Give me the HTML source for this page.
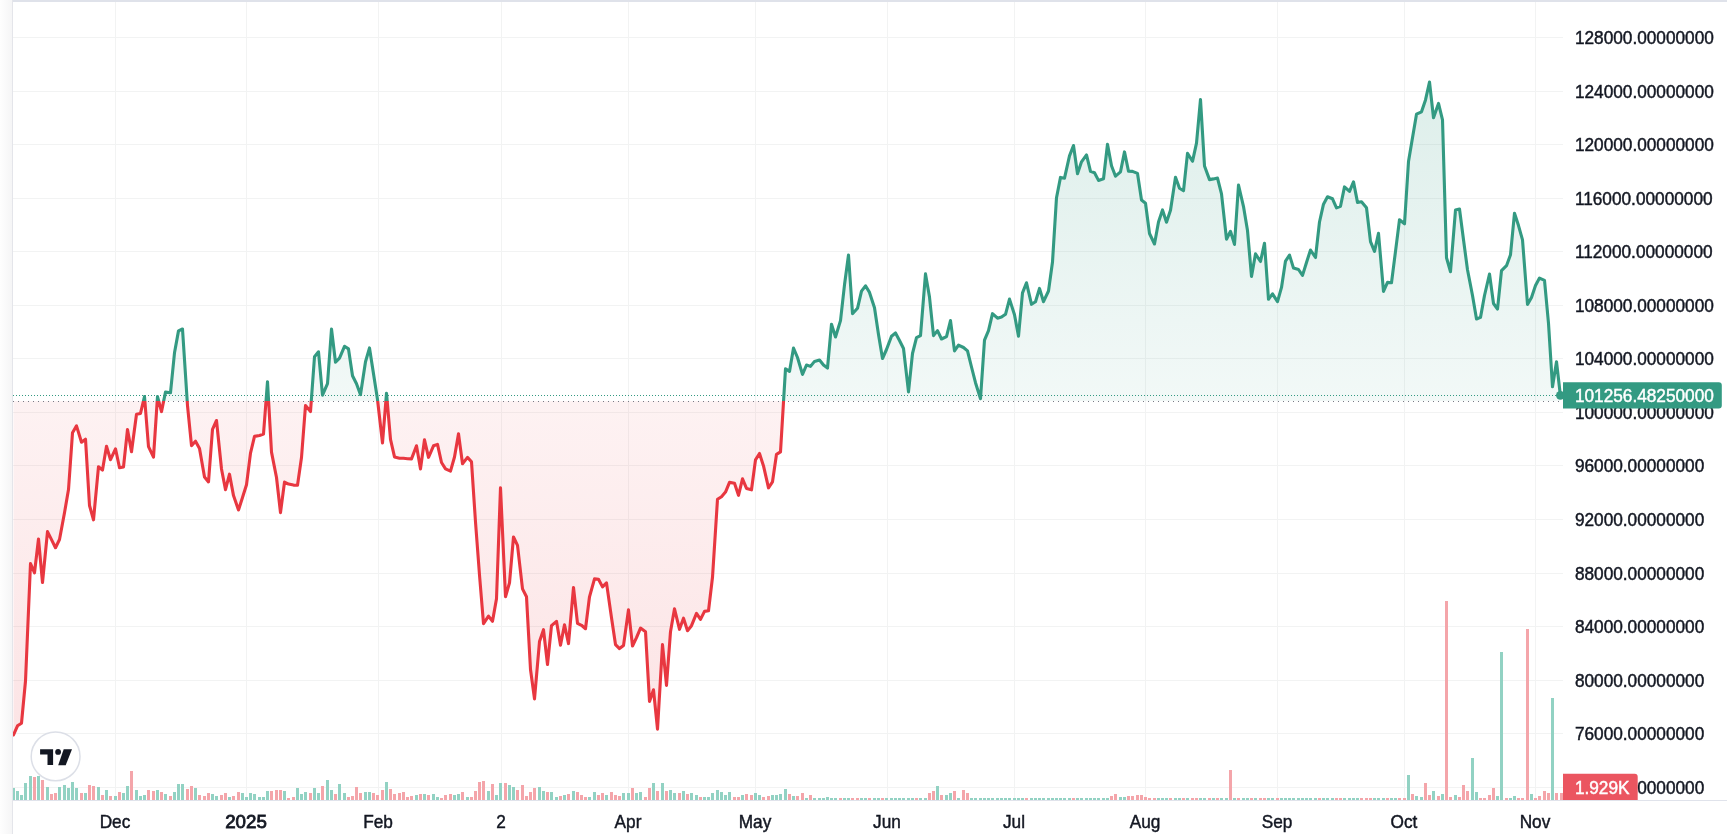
<!DOCTYPE html>
<html><head><meta charset="utf-8"><title>Chart</title><style>
html,body{margin:0;padding:0;width:1727px;height:834px;overflow:hidden;background:#fff;}
svg{position:absolute;left:0;top:0;display:block;}
text{font-family:"Liberation Sans",sans-serif;}
</style></head><body>
<svg width="1727" height="834" viewBox="0 0 1727 834" shape-rendering="auto">
<defs>
<linearGradient id="lg" x1="0" y1="0" x2="1" y2="0"><stop offset="0" stop-color="#fefefe"/><stop offset="1" stop-color="#f5f5f6"/></linearGradient>
<linearGradient id="gg" gradientUnits="userSpaceOnUse" x1="0" y1="2" x2="0" y2="401.0"><stop offset="0" stop-color="#339a82" stop-opacity="0.19"/><stop offset="1" stop-color="#339a82" stop-opacity="0.063"/></linearGradient>
<linearGradient id="rg" gradientUnits="userSpaceOnUse" x1="0" y1="401.0" x2="0" y2="800"><stop offset="0" stop-color="#e83740" stop-opacity="0.065"/><stop offset="1" stop-color="#e83740" stop-opacity="0.15"/></linearGradient>
<clipPath id="cu"><rect x="13" y="0" width="1550" height="401.0"/></clipPath>
<clipPath id="cd"><rect x="13" y="401.0" width="1550" height="399.0"/></clipPath>
</defs>
<rect x="0" y="0" width="12" height="834" fill="url(#lg)"/>
<rect x="12" y="0" width="1" height="834" fill="#e4e5ea"/>
<rect x="115" y="2" width="1" height="798" fill="#f2f3f3"/>
<rect x="246" y="2" width="1" height="798" fill="#f2f3f3"/>
<rect x="378" y="2" width="1" height="798" fill="#f2f3f3"/>
<rect x="501" y="2" width="1" height="798" fill="#f2f3f3"/>
<rect x="628" y="2" width="1" height="798" fill="#f2f3f3"/>
<rect x="755" y="2" width="1" height="798" fill="#f2f3f3"/>
<rect x="887" y="2" width="1" height="798" fill="#f2f3f3"/>
<rect x="1014" y="2" width="1" height="798" fill="#f2f3f3"/>
<rect x="1145" y="2" width="1" height="798" fill="#f2f3f3"/>
<rect x="1277" y="2" width="1" height="798" fill="#f2f3f3"/>
<rect x="1404" y="2" width="1" height="798" fill="#f2f3f3"/>
<rect x="1535" y="2" width="1" height="798" fill="#f2f3f3"/>
<rect x="13" y="37" width="1550" height="1" fill="#f2f3f3"/>
<rect x="13" y="91" width="1550" height="1" fill="#f2f3f3"/>
<rect x="13" y="144" width="1550" height="1" fill="#f2f3f3"/>
<rect x="13" y="198" width="1550" height="1" fill="#f2f3f3"/>
<rect x="13" y="251" width="1550" height="1" fill="#f2f3f3"/>
<rect x="13" y="305" width="1550" height="1" fill="#f2f3f3"/>
<rect x="13" y="358" width="1550" height="1" fill="#f2f3f3"/>
<rect x="13" y="412" width="1550" height="1" fill="#f2f3f3"/>
<rect x="13" y="465" width="1550" height="1" fill="#f2f3f3"/>
<rect x="13" y="519" width="1550" height="1" fill="#f2f3f3"/>
<rect x="13" y="573" width="1550" height="1" fill="#f2f3f3"/>
<rect x="13" y="626" width="1550" height="1" fill="#f2f3f3"/>
<rect x="13" y="680" width="1550" height="1" fill="#f2f3f3"/>
<rect x="13" y="733" width="1550" height="1" fill="#f2f3f3"/>
<rect x="13" y="787" width="1550" height="1" fill="#f2f3f3"/>
<path d="M13.5,735 L17.5,725.8 L21.5,723.2 L25.5,681 L30.5,563.5 L34.5,572.8 L38.5,539 L42.5,582.5 L47.5,531.6 L51.5,539.6 L55.5,547.7 L59.5,539.5 L64.5,512.7 L68.5,489.6 L72.5,432.8 L76.5,425.9 L81.5,442.2 L85.5,439.2 L89.5,505.5 L93.5,519.8 L98.5,466.7 L102.5,470.1 L106.5,446.2 L110.5,459.7 L115.5,448.8 L119.5,467.7 L123.5,466.9 L127.5,429.5 L131.5,451.8 L136.5,414.2 L140.5,413.4 L144.5,396.6 L148.5,446.6 L153.5,457.1 L157.5,396.6 L161.5,411.6 L165.5,392.1 L170.5,392.7 L174.5,352.8 L178.5,330.9 L182.5,329 L187.5,405.6 L191.5,445.6 L195.5,441.2 L199.5,448.4 L204.5,477 L208.5,481.9 L212.5,429.3 L216.5,420.5 L221.5,469 L225.5,489.7 L229.5,474.2 L233.5,495.6 L238.5,510 L242.5,497.6 L246.5,484.7 L250.5,453.1 L254.5,436.4 L259.5,435.5 L263.5,434.1 L267.5,381.7 L271.5,452.1 L276.5,477.5 L280.5,512.6 L284.5,482.1 L288.5,484.1 L293.5,485.1 L297.5,485.2 L301.5,457.5 L305.5,405.6 L310.5,411.6 L314.5,356.8 L318.5,351.8 L322.5,395.2 L327.5,383.7 L331.5,329 L335.5,362.2 L339.5,358.2 L344.5,346.3 L348.5,348.9 L352.5,375.7 L356.5,383.7 L360.5,394.6 L365.5,361.8 L369.5,347.9 L373.5,373.7 L377.5,399.6 L382.5,443 L386.5,393.2 L390.5,439.4 L394.5,456.9 L399.5,458.3 L403.5,458.3 L407.5,458.7 L411.5,458.9 L416.5,445.8 L420.5,468.9 L424.5,439.8 L428.5,457.3 L433.5,445.8 L437.5,444.4 L441.5,462.5 L445.5,468.8 L450.5,471.1 L454.5,457 L458.5,433.7 L462.5,463.8 L467.5,457.4 L471.5,461.8 L475.5,522 L479.5,575 L483.5,623.7 L488.5,616.1 L492.5,621.3 L496.5,598.8 L500.5,487.7 L505.5,596.8 L509.5,582.9 L513.5,537 L517.5,545.4 L522.5,588.9 L526.5,596.8 L530.5,669.5 L534.5,698.9 L539.5,641.6 L543.5,629.7 L547.5,664.5 L551.5,625.7 L556.5,621.3 L560.5,645.2 L564.5,624.7 L568.5,643.6 L573.5,587.5 L577.5,623.3 L581.5,625.3 L585.5,628.7 L589.5,596.8 L594.5,578.9 L598.5,579.3 L602.5,586.9 L606.5,582.9 L611.5,617.8 L615.5,644.6 L619.5,648.6 L623.5,645.6 L628.5,609.8 L632.5,646 L636.5,637.7 L640.5,628.1 L645.5,631.7 L649.5,701.4 L653.5,689.8 L657.5,729.2 L662.5,644.6 L666.5,685.4 L670.5,631.7 L674.5,608.8 L679.5,629.3 L683.5,618.2 L687.5,630.7 L691.5,625.7 L696.5,613.4 L700.5,619.4 L704.5,611.4 L708.5,610.8 L712.5,577.3 L717.5,499.3 L721.5,496.7 L725.5,492.1 L729.5,482.4 L734.5,483.2 L738.5,495.3 L742.5,478.8 L746.5,488.4 L751.5,489.8 L755.5,459.9 L759.5,453.5 L763.5,465.9 L768.5,487.8 L772.5,481.8 L776.5,454.3 L780.5,451.9 L785.5,368.8 L789.5,371.4 L793.5,348.1 L797.5,357.5 L802.5,374.4 L806.5,365 L810.5,366.4 L814.5,361.4 L819.5,360 L823.5,365 L827.5,368 L831.5,324.2 L835.5,337 L840.5,320.6 L844.5,284.8 L848.5,255 L852.5,313.7 L857.5,308.3 L861.5,291.2 L865.5,285.8 L869.5,292.4 L874.5,307.7 L878.5,334.6 L882.5,358.5 L886.5,349.5 L891.5,336.2 L895.5,333 L899.5,340.5 L903.5,348.5 L908.5,391.9 L912.5,353.5 L916.5,337.6 L920.5,335.6 L925.5,273.9 L929.5,297.1 L933.5,335.6 L937.5,330.6 L941.5,339 L946.5,336.6 L950.5,320.6 L954.5,350.9 L958.5,345.1 L963.5,347.5 L967.5,350.9 L971.5,367 L975.5,382.7 L980.5,398.7 L984.5,340.1 L988.5,330.6 L992.5,313.7 L997.5,318.2 L1001.5,317.1 L1005.5,314.3 L1009.5,299.1 L1014.5,314.7 L1018.5,336.2 L1022.5,292.8 L1026.5,282.8 L1031.5,304.3 L1035.5,301.7 L1039.5,288.4 L1043.5,301.7 L1048.5,291 L1052.5,262 L1056.5,197.7 L1060.5,177.4 L1064.5,178.2 L1069.5,155.9 L1073.5,145.5 L1077.5,173.8 L1081.5,161.8 L1086.5,154.9 L1090.5,171.4 L1094.5,172.8 L1098.5,180.4 L1103.5,178.8 L1107.5,144.3 L1111.5,165.8 L1115.5,176.2 L1120.5,171.8 L1124.5,151.9 L1128.5,171.2 L1132.5,171.4 L1137.5,173.4 L1141.5,200.1 L1145.5,203.2 L1149.5,233.5 L1154.5,244 L1158.5,222 L1162.5,209.9 L1166.5,222.2 L1170.5,210.2 L1175.5,177.2 L1179.5,188.3 L1183.5,190.8 L1187.5,153.3 L1192.5,161.3 L1196.5,143.1 L1200.5,99.5 L1204.5,166 L1209.5,179.6 L1213.5,178.9 L1217.5,178.1 L1221.5,193.9 L1226.5,239.2 L1230.5,231.3 L1234.5,244.4 L1238.5,185 L1243.5,206.6 L1247.5,230.5 L1251.5,276.4 L1255.5,253.9 L1260.5,261.5 L1264.5,243.2 L1268.5,299.3 L1272.5,293.8 L1277.5,301.7 L1281.5,287.4 L1285.5,261.1 L1289.5,255.1 L1293.5,268.1 L1298.5,269.5 L1302.5,275.4 L1306.5,262.5 L1310.5,250 L1315.5,257.5 L1319.5,222 L1323.5,204.2 L1327.5,196.8 L1332.5,198.8 L1336.5,207.8 L1340.5,206.2 L1344.5,186.9 L1349.5,191.4 L1353.5,181.9 L1357.5,202.4 L1361.5,201.8 L1366.5,207.8 L1370.5,241.6 L1374.5,251.4 L1378.5,233.3 L1383.5,291.4 L1387.5,282.4 L1391.5,282.7 L1395.5,251.4 L1399.5,219.8 L1404.5,223.8 L1408.5,161.6 L1412.5,137.7 L1416.5,114.2 L1421.5,111.8 L1425.5,99.9 L1429.5,82 L1433.5,117.8 L1438.5,103.4 L1442.5,119.8 L1446.5,257.7 L1450.5,271.7 L1455.5,210.1 L1459.5,209 L1463.5,239.8 L1467.5,269.7 L1472.5,295.5 L1476.5,319 L1480.5,317.4 L1484.5,295.5 L1489.5,274 L1493.5,303.5 L1497.5,309.1 L1501.5,270.7 L1506.5,265.7 L1510.5,254.7 L1514.5,213.2 L1518.5,225.6 L1522.5,239.8 L1527.5,304.5 L1531.5,297.5 L1535.5,285.6 L1539.5,278.1 L1544.5,280.4 L1548.5,323.4 L1552.5,386.8 L1556.5,361.8 L1560.4,395.5 L1560.4,401.0 L13.5,401.0 Z" fill="url(#gg)" clip-path="url(#cu)"/>
<path d="M13.5,735 L17.5,725.8 L21.5,723.2 L25.5,681 L30.5,563.5 L34.5,572.8 L38.5,539 L42.5,582.5 L47.5,531.6 L51.5,539.6 L55.5,547.7 L59.5,539.5 L64.5,512.7 L68.5,489.6 L72.5,432.8 L76.5,425.9 L81.5,442.2 L85.5,439.2 L89.5,505.5 L93.5,519.8 L98.5,466.7 L102.5,470.1 L106.5,446.2 L110.5,459.7 L115.5,448.8 L119.5,467.7 L123.5,466.9 L127.5,429.5 L131.5,451.8 L136.5,414.2 L140.5,413.4 L144.5,396.6 L148.5,446.6 L153.5,457.1 L157.5,396.6 L161.5,411.6 L165.5,392.1 L170.5,392.7 L174.5,352.8 L178.5,330.9 L182.5,329 L187.5,405.6 L191.5,445.6 L195.5,441.2 L199.5,448.4 L204.5,477 L208.5,481.9 L212.5,429.3 L216.5,420.5 L221.5,469 L225.5,489.7 L229.5,474.2 L233.5,495.6 L238.5,510 L242.5,497.6 L246.5,484.7 L250.5,453.1 L254.5,436.4 L259.5,435.5 L263.5,434.1 L267.5,381.7 L271.5,452.1 L276.5,477.5 L280.5,512.6 L284.5,482.1 L288.5,484.1 L293.5,485.1 L297.5,485.2 L301.5,457.5 L305.5,405.6 L310.5,411.6 L314.5,356.8 L318.5,351.8 L322.5,395.2 L327.5,383.7 L331.5,329 L335.5,362.2 L339.5,358.2 L344.5,346.3 L348.5,348.9 L352.5,375.7 L356.5,383.7 L360.5,394.6 L365.5,361.8 L369.5,347.9 L373.5,373.7 L377.5,399.6 L382.5,443 L386.5,393.2 L390.5,439.4 L394.5,456.9 L399.5,458.3 L403.5,458.3 L407.5,458.7 L411.5,458.9 L416.5,445.8 L420.5,468.9 L424.5,439.8 L428.5,457.3 L433.5,445.8 L437.5,444.4 L441.5,462.5 L445.5,468.8 L450.5,471.1 L454.5,457 L458.5,433.7 L462.5,463.8 L467.5,457.4 L471.5,461.8 L475.5,522 L479.5,575 L483.5,623.7 L488.5,616.1 L492.5,621.3 L496.5,598.8 L500.5,487.7 L505.5,596.8 L509.5,582.9 L513.5,537 L517.5,545.4 L522.5,588.9 L526.5,596.8 L530.5,669.5 L534.5,698.9 L539.5,641.6 L543.5,629.7 L547.5,664.5 L551.5,625.7 L556.5,621.3 L560.5,645.2 L564.5,624.7 L568.5,643.6 L573.5,587.5 L577.5,623.3 L581.5,625.3 L585.5,628.7 L589.5,596.8 L594.5,578.9 L598.5,579.3 L602.5,586.9 L606.5,582.9 L611.5,617.8 L615.5,644.6 L619.5,648.6 L623.5,645.6 L628.5,609.8 L632.5,646 L636.5,637.7 L640.5,628.1 L645.5,631.7 L649.5,701.4 L653.5,689.8 L657.5,729.2 L662.5,644.6 L666.5,685.4 L670.5,631.7 L674.5,608.8 L679.5,629.3 L683.5,618.2 L687.5,630.7 L691.5,625.7 L696.5,613.4 L700.5,619.4 L704.5,611.4 L708.5,610.8 L712.5,577.3 L717.5,499.3 L721.5,496.7 L725.5,492.1 L729.5,482.4 L734.5,483.2 L738.5,495.3 L742.5,478.8 L746.5,488.4 L751.5,489.8 L755.5,459.9 L759.5,453.5 L763.5,465.9 L768.5,487.8 L772.5,481.8 L776.5,454.3 L780.5,451.9 L785.5,368.8 L789.5,371.4 L793.5,348.1 L797.5,357.5 L802.5,374.4 L806.5,365 L810.5,366.4 L814.5,361.4 L819.5,360 L823.5,365 L827.5,368 L831.5,324.2 L835.5,337 L840.5,320.6 L844.5,284.8 L848.5,255 L852.5,313.7 L857.5,308.3 L861.5,291.2 L865.5,285.8 L869.5,292.4 L874.5,307.7 L878.5,334.6 L882.5,358.5 L886.5,349.5 L891.5,336.2 L895.5,333 L899.5,340.5 L903.5,348.5 L908.5,391.9 L912.5,353.5 L916.5,337.6 L920.5,335.6 L925.5,273.9 L929.5,297.1 L933.5,335.6 L937.5,330.6 L941.5,339 L946.5,336.6 L950.5,320.6 L954.5,350.9 L958.5,345.1 L963.5,347.5 L967.5,350.9 L971.5,367 L975.5,382.7 L980.5,398.7 L984.5,340.1 L988.5,330.6 L992.5,313.7 L997.5,318.2 L1001.5,317.1 L1005.5,314.3 L1009.5,299.1 L1014.5,314.7 L1018.5,336.2 L1022.5,292.8 L1026.5,282.8 L1031.5,304.3 L1035.5,301.7 L1039.5,288.4 L1043.5,301.7 L1048.5,291 L1052.5,262 L1056.5,197.7 L1060.5,177.4 L1064.5,178.2 L1069.5,155.9 L1073.5,145.5 L1077.5,173.8 L1081.5,161.8 L1086.5,154.9 L1090.5,171.4 L1094.5,172.8 L1098.5,180.4 L1103.5,178.8 L1107.5,144.3 L1111.5,165.8 L1115.5,176.2 L1120.5,171.8 L1124.5,151.9 L1128.5,171.2 L1132.5,171.4 L1137.5,173.4 L1141.5,200.1 L1145.5,203.2 L1149.5,233.5 L1154.5,244 L1158.5,222 L1162.5,209.9 L1166.5,222.2 L1170.5,210.2 L1175.5,177.2 L1179.5,188.3 L1183.5,190.8 L1187.5,153.3 L1192.5,161.3 L1196.5,143.1 L1200.5,99.5 L1204.5,166 L1209.5,179.6 L1213.5,178.9 L1217.5,178.1 L1221.5,193.9 L1226.5,239.2 L1230.5,231.3 L1234.5,244.4 L1238.5,185 L1243.5,206.6 L1247.5,230.5 L1251.5,276.4 L1255.5,253.9 L1260.5,261.5 L1264.5,243.2 L1268.5,299.3 L1272.5,293.8 L1277.5,301.7 L1281.5,287.4 L1285.5,261.1 L1289.5,255.1 L1293.5,268.1 L1298.5,269.5 L1302.5,275.4 L1306.5,262.5 L1310.5,250 L1315.5,257.5 L1319.5,222 L1323.5,204.2 L1327.5,196.8 L1332.5,198.8 L1336.5,207.8 L1340.5,206.2 L1344.5,186.9 L1349.5,191.4 L1353.5,181.9 L1357.5,202.4 L1361.5,201.8 L1366.5,207.8 L1370.5,241.6 L1374.5,251.4 L1378.5,233.3 L1383.5,291.4 L1387.5,282.4 L1391.5,282.7 L1395.5,251.4 L1399.5,219.8 L1404.5,223.8 L1408.5,161.6 L1412.5,137.7 L1416.5,114.2 L1421.5,111.8 L1425.5,99.9 L1429.5,82 L1433.5,117.8 L1438.5,103.4 L1442.5,119.8 L1446.5,257.7 L1450.5,271.7 L1455.5,210.1 L1459.5,209 L1463.5,239.8 L1467.5,269.7 L1472.5,295.5 L1476.5,319 L1480.5,317.4 L1484.5,295.5 L1489.5,274 L1493.5,303.5 L1497.5,309.1 L1501.5,270.7 L1506.5,265.7 L1510.5,254.7 L1514.5,213.2 L1518.5,225.6 L1522.5,239.8 L1527.5,304.5 L1531.5,297.5 L1535.5,285.6 L1539.5,278.1 L1544.5,280.4 L1548.5,323.4 L1552.5,386.8 L1556.5,361.8 L1560.4,395.5 L1560.4,401.0 L13.5,401.0 Z" fill="url(#rg)" clip-path="url(#cd)"/>
<line x1="13" y1="401.5" x2="1559.5" y2="401.5" stroke="#787b86" stroke-width="1" stroke-dasharray="1 4"/>
<line x1="13" y1="395.5" x2="1560" y2="395.5" stroke="#339a82" stroke-width="1" stroke-dasharray="1 2"/>
<path d="M13.5,735 L17.5,725.8 L21.5,723.2 L25.5,681 L30.5,563.5 L34.5,572.8 L38.5,539 L42.5,582.5 L47.5,531.6 L51.5,539.6 L55.5,547.7 L59.5,539.5 L64.5,512.7 L68.5,489.6 L72.5,432.8 L76.5,425.9 L81.5,442.2 L85.5,439.2 L89.5,505.5 L93.5,519.8 L98.5,466.7 L102.5,470.1 L106.5,446.2 L110.5,459.7 L115.5,448.8 L119.5,467.7 L123.5,466.9 L127.5,429.5 L131.5,451.8 L136.5,414.2 L140.5,413.4 L144.5,396.6 L148.5,446.6 L153.5,457.1 L157.5,396.6 L161.5,411.6 L165.5,392.1 L170.5,392.7 L174.5,352.8 L178.5,330.9 L182.5,329 L187.5,405.6 L191.5,445.6 L195.5,441.2 L199.5,448.4 L204.5,477 L208.5,481.9 L212.5,429.3 L216.5,420.5 L221.5,469 L225.5,489.7 L229.5,474.2 L233.5,495.6 L238.5,510 L242.5,497.6 L246.5,484.7 L250.5,453.1 L254.5,436.4 L259.5,435.5 L263.5,434.1 L267.5,381.7 L271.5,452.1 L276.5,477.5 L280.5,512.6 L284.5,482.1 L288.5,484.1 L293.5,485.1 L297.5,485.2 L301.5,457.5 L305.5,405.6 L310.5,411.6 L314.5,356.8 L318.5,351.8 L322.5,395.2 L327.5,383.7 L331.5,329 L335.5,362.2 L339.5,358.2 L344.5,346.3 L348.5,348.9 L352.5,375.7 L356.5,383.7 L360.5,394.6 L365.5,361.8 L369.5,347.9 L373.5,373.7 L377.5,399.6 L382.5,443 L386.5,393.2 L390.5,439.4 L394.5,456.9 L399.5,458.3 L403.5,458.3 L407.5,458.7 L411.5,458.9 L416.5,445.8 L420.5,468.9 L424.5,439.8 L428.5,457.3 L433.5,445.8 L437.5,444.4 L441.5,462.5 L445.5,468.8 L450.5,471.1 L454.5,457 L458.5,433.7 L462.5,463.8 L467.5,457.4 L471.5,461.8 L475.5,522 L479.5,575 L483.5,623.7 L488.5,616.1 L492.5,621.3 L496.5,598.8 L500.5,487.7 L505.5,596.8 L509.5,582.9 L513.5,537 L517.5,545.4 L522.5,588.9 L526.5,596.8 L530.5,669.5 L534.5,698.9 L539.5,641.6 L543.5,629.7 L547.5,664.5 L551.5,625.7 L556.5,621.3 L560.5,645.2 L564.5,624.7 L568.5,643.6 L573.5,587.5 L577.5,623.3 L581.5,625.3 L585.5,628.7 L589.5,596.8 L594.5,578.9 L598.5,579.3 L602.5,586.9 L606.5,582.9 L611.5,617.8 L615.5,644.6 L619.5,648.6 L623.5,645.6 L628.5,609.8 L632.5,646 L636.5,637.7 L640.5,628.1 L645.5,631.7 L649.5,701.4 L653.5,689.8 L657.5,729.2 L662.5,644.6 L666.5,685.4 L670.5,631.7 L674.5,608.8 L679.5,629.3 L683.5,618.2 L687.5,630.7 L691.5,625.7 L696.5,613.4 L700.5,619.4 L704.5,611.4 L708.5,610.8 L712.5,577.3 L717.5,499.3 L721.5,496.7 L725.5,492.1 L729.5,482.4 L734.5,483.2 L738.5,495.3 L742.5,478.8 L746.5,488.4 L751.5,489.8 L755.5,459.9 L759.5,453.5 L763.5,465.9 L768.5,487.8 L772.5,481.8 L776.5,454.3 L780.5,451.9 L785.5,368.8 L789.5,371.4 L793.5,348.1 L797.5,357.5 L802.5,374.4 L806.5,365 L810.5,366.4 L814.5,361.4 L819.5,360 L823.5,365 L827.5,368 L831.5,324.2 L835.5,337 L840.5,320.6 L844.5,284.8 L848.5,255 L852.5,313.7 L857.5,308.3 L861.5,291.2 L865.5,285.8 L869.5,292.4 L874.5,307.7 L878.5,334.6 L882.5,358.5 L886.5,349.5 L891.5,336.2 L895.5,333 L899.5,340.5 L903.5,348.5 L908.5,391.9 L912.5,353.5 L916.5,337.6 L920.5,335.6 L925.5,273.9 L929.5,297.1 L933.5,335.6 L937.5,330.6 L941.5,339 L946.5,336.6 L950.5,320.6 L954.5,350.9 L958.5,345.1 L963.5,347.5 L967.5,350.9 L971.5,367 L975.5,382.7 L980.5,398.7 L984.5,340.1 L988.5,330.6 L992.5,313.7 L997.5,318.2 L1001.5,317.1 L1005.5,314.3 L1009.5,299.1 L1014.5,314.7 L1018.5,336.2 L1022.5,292.8 L1026.5,282.8 L1031.5,304.3 L1035.5,301.7 L1039.5,288.4 L1043.5,301.7 L1048.5,291 L1052.5,262 L1056.5,197.7 L1060.5,177.4 L1064.5,178.2 L1069.5,155.9 L1073.5,145.5 L1077.5,173.8 L1081.5,161.8 L1086.5,154.9 L1090.5,171.4 L1094.5,172.8 L1098.5,180.4 L1103.5,178.8 L1107.5,144.3 L1111.5,165.8 L1115.5,176.2 L1120.5,171.8 L1124.5,151.9 L1128.5,171.2 L1132.5,171.4 L1137.5,173.4 L1141.5,200.1 L1145.5,203.2 L1149.5,233.5 L1154.5,244 L1158.5,222 L1162.5,209.9 L1166.5,222.2 L1170.5,210.2 L1175.5,177.2 L1179.5,188.3 L1183.5,190.8 L1187.5,153.3 L1192.5,161.3 L1196.5,143.1 L1200.5,99.5 L1204.5,166 L1209.5,179.6 L1213.5,178.9 L1217.5,178.1 L1221.5,193.9 L1226.5,239.2 L1230.5,231.3 L1234.5,244.4 L1238.5,185 L1243.5,206.6 L1247.5,230.5 L1251.5,276.4 L1255.5,253.9 L1260.5,261.5 L1264.5,243.2 L1268.5,299.3 L1272.5,293.8 L1277.5,301.7 L1281.5,287.4 L1285.5,261.1 L1289.5,255.1 L1293.5,268.1 L1298.5,269.5 L1302.5,275.4 L1306.5,262.5 L1310.5,250 L1315.5,257.5 L1319.5,222 L1323.5,204.2 L1327.5,196.8 L1332.5,198.8 L1336.5,207.8 L1340.5,206.2 L1344.5,186.9 L1349.5,191.4 L1353.5,181.9 L1357.5,202.4 L1361.5,201.8 L1366.5,207.8 L1370.5,241.6 L1374.5,251.4 L1378.5,233.3 L1383.5,291.4 L1387.5,282.4 L1391.5,282.7 L1395.5,251.4 L1399.5,219.8 L1404.5,223.8 L1408.5,161.6 L1412.5,137.7 L1416.5,114.2 L1421.5,111.8 L1425.5,99.9 L1429.5,82 L1433.5,117.8 L1438.5,103.4 L1442.5,119.8 L1446.5,257.7 L1450.5,271.7 L1455.5,210.1 L1459.5,209 L1463.5,239.8 L1467.5,269.7 L1472.5,295.5 L1476.5,319 L1480.5,317.4 L1484.5,295.5 L1489.5,274 L1493.5,303.5 L1497.5,309.1 L1501.5,270.7 L1506.5,265.7 L1510.5,254.7 L1514.5,213.2 L1518.5,225.6 L1522.5,239.8 L1527.5,304.5 L1531.5,297.5 L1535.5,285.6 L1539.5,278.1 L1544.5,280.4 L1548.5,323.4 L1552.5,386.8 L1556.5,361.8 L1560.4,395.5" fill="none" stroke="#339a82" stroke-width="3.1" stroke-linejoin="round" stroke-linecap="round" clip-path="url(#cu)"/>
<path d="M13.5,735 L17.5,725.8 L21.5,723.2 L25.5,681 L30.5,563.5 L34.5,572.8 L38.5,539 L42.5,582.5 L47.5,531.6 L51.5,539.6 L55.5,547.7 L59.5,539.5 L64.5,512.7 L68.5,489.6 L72.5,432.8 L76.5,425.9 L81.5,442.2 L85.5,439.2 L89.5,505.5 L93.5,519.8 L98.5,466.7 L102.5,470.1 L106.5,446.2 L110.5,459.7 L115.5,448.8 L119.5,467.7 L123.5,466.9 L127.5,429.5 L131.5,451.8 L136.5,414.2 L140.5,413.4 L144.5,396.6 L148.5,446.6 L153.5,457.1 L157.5,396.6 L161.5,411.6 L165.5,392.1 L170.5,392.7 L174.5,352.8 L178.5,330.9 L182.5,329 L187.5,405.6 L191.5,445.6 L195.5,441.2 L199.5,448.4 L204.5,477 L208.5,481.9 L212.5,429.3 L216.5,420.5 L221.5,469 L225.5,489.7 L229.5,474.2 L233.5,495.6 L238.5,510 L242.5,497.6 L246.5,484.7 L250.5,453.1 L254.5,436.4 L259.5,435.5 L263.5,434.1 L267.5,381.7 L271.5,452.1 L276.5,477.5 L280.5,512.6 L284.5,482.1 L288.5,484.1 L293.5,485.1 L297.5,485.2 L301.5,457.5 L305.5,405.6 L310.5,411.6 L314.5,356.8 L318.5,351.8 L322.5,395.2 L327.5,383.7 L331.5,329 L335.5,362.2 L339.5,358.2 L344.5,346.3 L348.5,348.9 L352.5,375.7 L356.5,383.7 L360.5,394.6 L365.5,361.8 L369.5,347.9 L373.5,373.7 L377.5,399.6 L382.5,443 L386.5,393.2 L390.5,439.4 L394.5,456.9 L399.5,458.3 L403.5,458.3 L407.5,458.7 L411.5,458.9 L416.5,445.8 L420.5,468.9 L424.5,439.8 L428.5,457.3 L433.5,445.8 L437.5,444.4 L441.5,462.5 L445.5,468.8 L450.5,471.1 L454.5,457 L458.5,433.7 L462.5,463.8 L467.5,457.4 L471.5,461.8 L475.5,522 L479.5,575 L483.5,623.7 L488.5,616.1 L492.5,621.3 L496.5,598.8 L500.5,487.7 L505.5,596.8 L509.5,582.9 L513.5,537 L517.5,545.4 L522.5,588.9 L526.5,596.8 L530.5,669.5 L534.5,698.9 L539.5,641.6 L543.5,629.7 L547.5,664.5 L551.5,625.7 L556.5,621.3 L560.5,645.2 L564.5,624.7 L568.5,643.6 L573.5,587.5 L577.5,623.3 L581.5,625.3 L585.5,628.7 L589.5,596.8 L594.5,578.9 L598.5,579.3 L602.5,586.9 L606.5,582.9 L611.5,617.8 L615.5,644.6 L619.5,648.6 L623.5,645.6 L628.5,609.8 L632.5,646 L636.5,637.7 L640.5,628.1 L645.5,631.7 L649.5,701.4 L653.5,689.8 L657.5,729.2 L662.5,644.6 L666.5,685.4 L670.5,631.7 L674.5,608.8 L679.5,629.3 L683.5,618.2 L687.5,630.7 L691.5,625.7 L696.5,613.4 L700.5,619.4 L704.5,611.4 L708.5,610.8 L712.5,577.3 L717.5,499.3 L721.5,496.7 L725.5,492.1 L729.5,482.4 L734.5,483.2 L738.5,495.3 L742.5,478.8 L746.5,488.4 L751.5,489.8 L755.5,459.9 L759.5,453.5 L763.5,465.9 L768.5,487.8 L772.5,481.8 L776.5,454.3 L780.5,451.9 L785.5,368.8 L789.5,371.4 L793.5,348.1 L797.5,357.5 L802.5,374.4 L806.5,365 L810.5,366.4 L814.5,361.4 L819.5,360 L823.5,365 L827.5,368 L831.5,324.2 L835.5,337 L840.5,320.6 L844.5,284.8 L848.5,255 L852.5,313.7 L857.5,308.3 L861.5,291.2 L865.5,285.8 L869.5,292.4 L874.5,307.7 L878.5,334.6 L882.5,358.5 L886.5,349.5 L891.5,336.2 L895.5,333 L899.5,340.5 L903.5,348.5 L908.5,391.9 L912.5,353.5 L916.5,337.6 L920.5,335.6 L925.5,273.9 L929.5,297.1 L933.5,335.6 L937.5,330.6 L941.5,339 L946.5,336.6 L950.5,320.6 L954.5,350.9 L958.5,345.1 L963.5,347.5 L967.5,350.9 L971.5,367 L975.5,382.7 L980.5,398.7 L984.5,340.1 L988.5,330.6 L992.5,313.7 L997.5,318.2 L1001.5,317.1 L1005.5,314.3 L1009.5,299.1 L1014.5,314.7 L1018.5,336.2 L1022.5,292.8 L1026.5,282.8 L1031.5,304.3 L1035.5,301.7 L1039.5,288.4 L1043.5,301.7 L1048.5,291 L1052.5,262 L1056.5,197.7 L1060.5,177.4 L1064.5,178.2 L1069.5,155.9 L1073.5,145.5 L1077.5,173.8 L1081.5,161.8 L1086.5,154.9 L1090.5,171.4 L1094.5,172.8 L1098.5,180.4 L1103.5,178.8 L1107.5,144.3 L1111.5,165.8 L1115.5,176.2 L1120.5,171.8 L1124.5,151.9 L1128.5,171.2 L1132.5,171.4 L1137.5,173.4 L1141.5,200.1 L1145.5,203.2 L1149.5,233.5 L1154.5,244 L1158.5,222 L1162.5,209.9 L1166.5,222.2 L1170.5,210.2 L1175.5,177.2 L1179.5,188.3 L1183.5,190.8 L1187.5,153.3 L1192.5,161.3 L1196.5,143.1 L1200.5,99.5 L1204.5,166 L1209.5,179.6 L1213.5,178.9 L1217.5,178.1 L1221.5,193.9 L1226.5,239.2 L1230.5,231.3 L1234.5,244.4 L1238.5,185 L1243.5,206.6 L1247.5,230.5 L1251.5,276.4 L1255.5,253.9 L1260.5,261.5 L1264.5,243.2 L1268.5,299.3 L1272.5,293.8 L1277.5,301.7 L1281.5,287.4 L1285.5,261.1 L1289.5,255.1 L1293.5,268.1 L1298.5,269.5 L1302.5,275.4 L1306.5,262.5 L1310.5,250 L1315.5,257.5 L1319.5,222 L1323.5,204.2 L1327.5,196.8 L1332.5,198.8 L1336.5,207.8 L1340.5,206.2 L1344.5,186.9 L1349.5,191.4 L1353.5,181.9 L1357.5,202.4 L1361.5,201.8 L1366.5,207.8 L1370.5,241.6 L1374.5,251.4 L1378.5,233.3 L1383.5,291.4 L1387.5,282.4 L1391.5,282.7 L1395.5,251.4 L1399.5,219.8 L1404.5,223.8 L1408.5,161.6 L1412.5,137.7 L1416.5,114.2 L1421.5,111.8 L1425.5,99.9 L1429.5,82 L1433.5,117.8 L1438.5,103.4 L1442.5,119.8 L1446.5,257.7 L1450.5,271.7 L1455.5,210.1 L1459.5,209 L1463.5,239.8 L1467.5,269.7 L1472.5,295.5 L1476.5,319 L1480.5,317.4 L1484.5,295.5 L1489.5,274 L1493.5,303.5 L1497.5,309.1 L1501.5,270.7 L1506.5,265.7 L1510.5,254.7 L1514.5,213.2 L1518.5,225.6 L1522.5,239.8 L1527.5,304.5 L1531.5,297.5 L1535.5,285.6 L1539.5,278.1 L1544.5,280.4 L1548.5,323.4 L1552.5,386.8 L1556.5,361.8 L1560.4,395.5" fill="none" stroke="#e83740" stroke-width="3.1" stroke-linejoin="round" stroke-linecap="round" clip-path="url(#cd)"/>
<circle cx="1560.4" cy="395.3" r="4.4" fill="#339a82"/>
<rect x="13" y="788" width="2" height="12" fill="#92d2c3"/>
<rect x="16" y="791" width="3" height="9" fill="#92d2c3"/>
<rect x="20" y="795" width="3" height="5" fill="#92d2c3"/>
<rect x="24" y="783" width="3" height="17" fill="#92d2c3"/>
<rect x="29" y="776" width="3" height="24" fill="#92d2c3"/>
<rect x="33" y="777" width="3" height="23" fill="#f4a5aa"/>
<rect x="37" y="776" width="3" height="24" fill="#92d2c3"/>
<rect x="41" y="780" width="3" height="20" fill="#f4a5aa"/>
<rect x="46" y="787" width="3" height="13" fill="#92d2c3"/>
<rect x="50" y="794" width="3" height="6" fill="#f4a5aa"/>
<rect x="54" y="793" width="3" height="7" fill="#f4a5aa"/>
<rect x="58" y="787" width="3" height="13" fill="#92d2c3"/>
<rect x="63" y="785" width="3" height="15" fill="#92d2c3"/>
<rect x="67" y="788" width="3" height="12" fill="#92d2c3"/>
<rect x="71" y="782" width="3" height="18" fill="#92d2c3"/>
<rect x="75" y="788" width="3" height="12" fill="#92d2c3"/>
<rect x="80" y="793" width="3" height="7" fill="#f4a5aa"/>
<rect x="84" y="793" width="3" height="7" fill="#92d2c3"/>
<rect x="88" y="785" width="3" height="15" fill="#f4a5aa"/>
<rect x="92" y="786" width="3" height="14" fill="#f4a5aa"/>
<rect x="97" y="787" width="3" height="13" fill="#92d2c3"/>
<rect x="101" y="795" width="3" height="5" fill="#f4a5aa"/>
<rect x="105" y="790" width="3" height="10" fill="#92d2c3"/>
<rect x="109" y="796" width="3" height="4" fill="#f4a5aa"/>
<rect x="114" y="796" width="3" height="4" fill="#92d2c3"/>
<rect x="118" y="792" width="3" height="8" fill="#f4a5aa"/>
<rect x="122" y="793" width="3" height="7" fill="#92d2c3"/>
<rect x="126" y="786" width="3" height="14" fill="#92d2c3"/>
<rect x="130" y="771" width="3" height="29" fill="#f4a5aa"/>
<rect x="135" y="790" width="3" height="10" fill="#92d2c3"/>
<rect x="139" y="796" width="3" height="4" fill="#92d2c3"/>
<rect x="143" y="795" width="3" height="5" fill="#92d2c3"/>
<rect x="147" y="790" width="3" height="10" fill="#f4a5aa"/>
<rect x="152" y="791" width="3" height="9" fill="#f4a5aa"/>
<rect x="156" y="790" width="3" height="10" fill="#92d2c3"/>
<rect x="160" y="792" width="3" height="8" fill="#f4a5aa"/>
<rect x="164" y="794" width="3" height="6" fill="#92d2c3"/>
<rect x="169" y="796" width="3" height="4" fill="#f4a5aa"/>
<rect x="173" y="792" width="3" height="8" fill="#92d2c3"/>
<rect x="177" y="784" width="3" height="16" fill="#92d2c3"/>
<rect x="181" y="784" width="3" height="16" fill="#92d2c3"/>
<rect x="186" y="789" width="3" height="11" fill="#f4a5aa"/>
<rect x="190" y="786" width="3" height="14" fill="#f4a5aa"/>
<rect x="194" y="788" width="3" height="12" fill="#92d2c3"/>
<rect x="198" y="795" width="3" height="5" fill="#f4a5aa"/>
<rect x="203" y="796" width="3" height="4" fill="#f4a5aa"/>
<rect x="207" y="793" width="3" height="7" fill="#f4a5aa"/>
<rect x="211" y="794" width="3" height="6" fill="#92d2c3"/>
<rect x="215" y="796" width="3" height="4" fill="#92d2c3"/>
<rect x="220" y="795" width="3" height="5" fill="#f4a5aa"/>
<rect x="224" y="793" width="3" height="7" fill="#f4a5aa"/>
<rect x="228" y="797" width="3" height="3" fill="#92d2c3"/>
<rect x="232" y="796" width="3" height="4" fill="#f4a5aa"/>
<rect x="237" y="792" width="3" height="8" fill="#f4a5aa"/>
<rect x="241" y="793" width="3" height="7" fill="#92d2c3"/>
<rect x="245" y="797" width="3" height="3" fill="#92d2c3"/>
<rect x="249" y="793" width="3" height="7" fill="#92d2c3"/>
<rect x="253" y="794" width="3" height="6" fill="#92d2c3"/>
<rect x="258" y="797" width="3" height="3" fill="#92d2c3"/>
<rect x="262" y="797" width="3" height="3" fill="#92d2c3"/>
<rect x="266" y="791" width="3" height="9" fill="#92d2c3"/>
<rect x="270" y="791" width="3" height="9" fill="#f4a5aa"/>
<rect x="275" y="790" width="3" height="10" fill="#f4a5aa"/>
<rect x="279" y="790" width="3" height="10" fill="#f4a5aa"/>
<rect x="283" y="791" width="3" height="9" fill="#92d2c3"/>
<rect x="287" y="798" width="3" height="2" fill="#f4a5aa"/>
<rect x="292" y="797" width="3" height="3" fill="#f4a5aa"/>
<rect x="296" y="788" width="3" height="12" fill="#92d2c3"/>
<rect x="300" y="794" width="3" height="6" fill="#92d2c3"/>
<rect x="304" y="792" width="3" height="8" fill="#92d2c3"/>
<rect x="309" y="793" width="3" height="7" fill="#f4a5aa"/>
<rect x="313" y="788" width="3" height="12" fill="#92d2c3"/>
<rect x="317" y="793" width="3" height="7" fill="#92d2c3"/>
<rect x="321" y="786" width="3" height="14" fill="#f4a5aa"/>
<rect x="326" y="780" width="3" height="20" fill="#92d2c3"/>
<rect x="330" y="790" width="3" height="10" fill="#92d2c3"/>
<rect x="334" y="794" width="3" height="6" fill="#f4a5aa"/>
<rect x="338" y="784" width="3" height="16" fill="#92d2c3"/>
<rect x="343" y="793" width="3" height="7" fill="#92d2c3"/>
<rect x="347" y="797" width="3" height="3" fill="#f4a5aa"/>
<rect x="351" y="796" width="3" height="4" fill="#f4a5aa"/>
<rect x="355" y="787" width="3" height="13" fill="#f4a5aa"/>
<rect x="359" y="793" width="3" height="7" fill="#f4a5aa"/>
<rect x="364" y="792" width="3" height="8" fill="#92d2c3"/>
<rect x="368" y="792" width="3" height="8" fill="#92d2c3"/>
<rect x="372" y="793" width="3" height="7" fill="#f4a5aa"/>
<rect x="376" y="795" width="3" height="5" fill="#f4a5aa"/>
<rect x="381" y="790" width="3" height="10" fill="#f4a5aa"/>
<rect x="385" y="782" width="3" height="18" fill="#92d2c3"/>
<rect x="389" y="789" width="3" height="11" fill="#f4a5aa"/>
<rect x="393" y="794" width="3" height="6" fill="#f4a5aa"/>
<rect x="398" y="793" width="3" height="7" fill="#f4a5aa"/>
<rect x="402" y="792" width="3" height="8" fill="#f4a5aa"/>
<rect x="406" y="797" width="3" height="3" fill="#f4a5aa"/>
<rect x="410" y="796" width="3" height="4" fill="#f4a5aa"/>
<rect x="415" y="795" width="3" height="5" fill="#92d2c3"/>
<rect x="419" y="794" width="3" height="6" fill="#f4a5aa"/>
<rect x="423" y="794" width="3" height="6" fill="#92d2c3"/>
<rect x="427" y="795" width="3" height="5" fill="#f4a5aa"/>
<rect x="432" y="794" width="3" height="6" fill="#92d2c3"/>
<rect x="436" y="797" width="3" height="3" fill="#92d2c3"/>
<rect x="440" y="798" width="3" height="2" fill="#f4a5aa"/>
<rect x="444" y="795" width="3" height="5" fill="#f4a5aa"/>
<rect x="449" y="794" width="3" height="6" fill="#f4a5aa"/>
<rect x="453" y="795" width="3" height="5" fill="#92d2c3"/>
<rect x="457" y="794" width="3" height="6" fill="#92d2c3"/>
<rect x="461" y="792" width="3" height="8" fill="#f4a5aa"/>
<rect x="466" y="797" width="3" height="3" fill="#92d2c3"/>
<rect x="470" y="797" width="3" height="3" fill="#f4a5aa"/>
<rect x="474" y="791" width="3" height="9" fill="#f4a5aa"/>
<rect x="478" y="782" width="3" height="18" fill="#f4a5aa"/>
<rect x="482" y="781" width="3" height="19" fill="#f4a5aa"/>
<rect x="487" y="791" width="3" height="9" fill="#92d2c3"/>
<rect x="491" y="784" width="3" height="16" fill="#f4a5aa"/>
<rect x="495" y="795" width="3" height="5" fill="#92d2c3"/>
<rect x="499" y="783" width="3" height="17" fill="#92d2c3"/>
<rect x="504" y="783" width="3" height="17" fill="#f4a5aa"/>
<rect x="508" y="785" width="3" height="15" fill="#92d2c3"/>
<rect x="512" y="787" width="3" height="13" fill="#92d2c3"/>
<rect x="516" y="790" width="3" height="10" fill="#f4a5aa"/>
<rect x="521" y="785" width="3" height="15" fill="#f4a5aa"/>
<rect x="525" y="796" width="3" height="4" fill="#f4a5aa"/>
<rect x="529" y="792" width="3" height="8" fill="#f4a5aa"/>
<rect x="533" y="788" width="3" height="12" fill="#f4a5aa"/>
<rect x="538" y="787" width="3" height="13" fill="#92d2c3"/>
<rect x="542" y="791" width="3" height="9" fill="#92d2c3"/>
<rect x="546" y="792" width="3" height="8" fill="#f4a5aa"/>
<rect x="550" y="792" width="3" height="8" fill="#92d2c3"/>
<rect x="555" y="797" width="3" height="3" fill="#92d2c3"/>
<rect x="559" y="796" width="3" height="4" fill="#f4a5aa"/>
<rect x="563" y="795" width="3" height="5" fill="#92d2c3"/>
<rect x="567" y="794" width="3" height="6" fill="#f4a5aa"/>
<rect x="572" y="791" width="3" height="9" fill="#92d2c3"/>
<rect x="576" y="792" width="3" height="8" fill="#f4a5aa"/>
<rect x="580" y="795" width="3" height="5" fill="#f4a5aa"/>
<rect x="584" y="797" width="3" height="3" fill="#f4a5aa"/>
<rect x="588" y="797" width="3" height="3" fill="#92d2c3"/>
<rect x="593" y="792" width="3" height="8" fill="#92d2c3"/>
<rect x="597" y="795" width="3" height="5" fill="#f4a5aa"/>
<rect x="601" y="793" width="3" height="7" fill="#f4a5aa"/>
<rect x="605" y="795" width="3" height="5" fill="#92d2c3"/>
<rect x="610" y="792" width="3" height="8" fill="#f4a5aa"/>
<rect x="614" y="795" width="3" height="5" fill="#f4a5aa"/>
<rect x="618" y="796" width="3" height="4" fill="#f4a5aa"/>
<rect x="622" y="793" width="3" height="7" fill="#92d2c3"/>
<rect x="627" y="793" width="3" height="7" fill="#92d2c3"/>
<rect x="631" y="788" width="3" height="12" fill="#f4a5aa"/>
<rect x="635" y="793" width="3" height="7" fill="#92d2c3"/>
<rect x="639" y="792" width="3" height="8" fill="#92d2c3"/>
<rect x="644" y="797" width="3" height="3" fill="#f4a5aa"/>
<rect x="648" y="788" width="3" height="12" fill="#f4a5aa"/>
<rect x="652" y="783" width="3" height="17" fill="#92d2c3"/>
<rect x="656" y="791" width="3" height="9" fill="#f4a5aa"/>
<rect x="661" y="783" width="3" height="17" fill="#92d2c3"/>
<rect x="665" y="791" width="3" height="9" fill="#f4a5aa"/>
<rect x="669" y="790" width="3" height="10" fill="#92d2c3"/>
<rect x="673" y="793" width="3" height="7" fill="#92d2c3"/>
<rect x="678" y="793" width="3" height="7" fill="#f4a5aa"/>
<rect x="682" y="791" width="3" height="9" fill="#92d2c3"/>
<rect x="686" y="794" width="3" height="6" fill="#f4a5aa"/>
<rect x="690" y="793" width="3" height="7" fill="#92d2c3"/>
<rect x="695" y="795" width="3" height="5" fill="#92d2c3"/>
<rect x="699" y="797" width="3" height="3" fill="#f4a5aa"/>
<rect x="703" y="797" width="3" height="3" fill="#92d2c3"/>
<rect x="707" y="797" width="3" height="3" fill="#92d2c3"/>
<rect x="711" y="793" width="3" height="7" fill="#92d2c3"/>
<rect x="716" y="790" width="3" height="10" fill="#92d2c3"/>
<rect x="720" y="792" width="3" height="8" fill="#92d2c3"/>
<rect x="724" y="795" width="3" height="5" fill="#92d2c3"/>
<rect x="728" y="792" width="3" height="8" fill="#92d2c3"/>
<rect x="733" y="797" width="3" height="3" fill="#f4a5aa"/>
<rect x="737" y="797" width="3" height="3" fill="#f4a5aa"/>
<rect x="741" y="795" width="3" height="5" fill="#92d2c3"/>
<rect x="745" y="794" width="3" height="6" fill="#f4a5aa"/>
<rect x="750" y="795" width="3" height="5" fill="#f4a5aa"/>
<rect x="754" y="793" width="3" height="7" fill="#92d2c3"/>
<rect x="758" y="795" width="3" height="5" fill="#92d2c3"/>
<rect x="762" y="797" width="3" height="3" fill="#f4a5aa"/>
<rect x="767" y="796" width="3" height="4" fill="#f4a5aa"/>
<rect x="771" y="795" width="3" height="5" fill="#92d2c3"/>
<rect x="775" y="795" width="3" height="5" fill="#92d2c3"/>
<rect x="779" y="794" width="3" height="6" fill="#92d2c3"/>
<rect x="784" y="789" width="3" height="11" fill="#92d2c3"/>
<rect x="788" y="794" width="3" height="6" fill="#f4a5aa"/>
<rect x="792" y="796" width="3" height="4" fill="#92d2c3"/>
<rect x="796" y="796" width="3" height="4" fill="#f4a5aa"/>
<rect x="801" y="793" width="3" height="7" fill="#f4a5aa"/>
<rect x="805" y="798" width="3" height="2" fill="#92d2c3"/>
<rect x="809" y="795" width="3" height="5" fill="#f4a5aa"/>
<rect x="813" y="798" width="3" height="2" fill="#92d2c3"/>
<rect x="818" y="798" width="3" height="2" fill="#92d2c3"/>
<rect x="822" y="798" width="3" height="2" fill="#92d2c3"/>
<rect x="826" y="797" width="3" height="3" fill="#92d2c3"/>
<rect x="830" y="798" width="3" height="2" fill="#92d2c3"/>
<rect x="834" y="798" width="3" height="2" fill="#92d2c3"/>
<rect x="839" y="798" width="3" height="2" fill="#f4a5aa"/>
<rect x="843" y="798" width="3" height="2" fill="#92d2c3"/>
<rect x="847" y="798" width="3" height="2" fill="#92d2c3"/>
<rect x="851" y="798" width="3" height="2" fill="#f4a5aa"/>
<rect x="856" y="798" width="3" height="2" fill="#f4a5aa"/>
<rect x="860" y="798" width="3" height="2" fill="#92d2c3"/>
<rect x="864" y="798" width="3" height="2" fill="#92d2c3"/>
<rect x="868" y="798" width="3" height="2" fill="#f4a5aa"/>
<rect x="873" y="798" width="3" height="2" fill="#92d2c3"/>
<rect x="877" y="798" width="3" height="2" fill="#92d2c3"/>
<rect x="881" y="798" width="3" height="2" fill="#f4a5aa"/>
<rect x="885" y="798" width="3" height="2" fill="#92d2c3"/>
<rect x="890" y="798" width="3" height="2" fill="#92d2c3"/>
<rect x="894" y="798" width="3" height="2" fill="#92d2c3"/>
<rect x="898" y="798" width="3" height="2" fill="#92d2c3"/>
<rect x="902" y="798" width="3" height="2" fill="#92d2c3"/>
<rect x="907" y="798" width="3" height="2" fill="#92d2c3"/>
<rect x="911" y="798" width="3" height="2" fill="#92d2c3"/>
<rect x="915" y="798" width="3" height="2" fill="#f4a5aa"/>
<rect x="919" y="798" width="3" height="2" fill="#92d2c3"/>
<rect x="924" y="798" width="3" height="2" fill="#92d2c3"/>
<rect x="928" y="793" width="3" height="7" fill="#f4a5aa"/>
<rect x="932" y="791" width="3" height="9" fill="#f4a5aa"/>
<rect x="936" y="786" width="3" height="14" fill="#92d2c3"/>
<rect x="940" y="795" width="3" height="5" fill="#f4a5aa"/>
<rect x="945" y="795" width="3" height="5" fill="#92d2c3"/>
<rect x="949" y="793" width="3" height="7" fill="#92d2c3"/>
<rect x="953" y="791" width="3" height="9" fill="#f4a5aa"/>
<rect x="957" y="798" width="3" height="2" fill="#92d2c3"/>
<rect x="962" y="790" width="3" height="10" fill="#f4a5aa"/>
<rect x="966" y="793" width="3" height="7" fill="#f4a5aa"/>
<rect x="970" y="798" width="3" height="2" fill="#92d2c3"/>
<rect x="974" y="798" width="3" height="2" fill="#92d2c3"/>
<rect x="979" y="798" width="3" height="2" fill="#92d2c3"/>
<rect x="983" y="798" width="3" height="2" fill="#92d2c3"/>
<rect x="987" y="798" width="3" height="2" fill="#92d2c3"/>
<rect x="991" y="798" width="3" height="2" fill="#92d2c3"/>
<rect x="996" y="798" width="3" height="2" fill="#92d2c3"/>
<rect x="1000" y="798" width="3" height="2" fill="#92d2c3"/>
<rect x="1004" y="798" width="3" height="2" fill="#92d2c3"/>
<rect x="1008" y="798" width="3" height="2" fill="#92d2c3"/>
<rect x="1013" y="798" width="3" height="2" fill="#92d2c3"/>
<rect x="1017" y="798" width="3" height="2" fill="#92d2c3"/>
<rect x="1021" y="798" width="3" height="2" fill="#92d2c3"/>
<rect x="1025" y="798" width="3" height="2" fill="#f4a5aa"/>
<rect x="1030" y="798" width="3" height="2" fill="#92d2c3"/>
<rect x="1034" y="798" width="3" height="2" fill="#92d2c3"/>
<rect x="1038" y="798" width="3" height="2" fill="#92d2c3"/>
<rect x="1042" y="798" width="3" height="2" fill="#92d2c3"/>
<rect x="1047" y="798" width="3" height="2" fill="#92d2c3"/>
<rect x="1051" y="798" width="3" height="2" fill="#92d2c3"/>
<rect x="1055" y="798" width="3" height="2" fill="#92d2c3"/>
<rect x="1059" y="798" width="3" height="2" fill="#92d2c3"/>
<rect x="1063" y="798" width="3" height="2" fill="#92d2c3"/>
<rect x="1068" y="798" width="3" height="2" fill="#92d2c3"/>
<rect x="1072" y="798" width="3" height="2" fill="#f4a5aa"/>
<rect x="1076" y="798" width="3" height="2" fill="#92d2c3"/>
<rect x="1080" y="798" width="3" height="2" fill="#92d2c3"/>
<rect x="1085" y="798" width="3" height="2" fill="#92d2c3"/>
<rect x="1089" y="798" width="3" height="2" fill="#92d2c3"/>
<rect x="1093" y="798" width="3" height="2" fill="#92d2c3"/>
<rect x="1097" y="798" width="3" height="2" fill="#92d2c3"/>
<rect x="1102" y="798" width="3" height="2" fill="#92d2c3"/>
<rect x="1106" y="798" width="3" height="2" fill="#92d2c3"/>
<rect x="1110" y="796" width="3" height="4" fill="#f4a5aa"/>
<rect x="1114" y="794" width="3" height="6" fill="#f4a5aa"/>
<rect x="1119" y="797" width="3" height="3" fill="#92d2c3"/>
<rect x="1123" y="797" width="3" height="3" fill="#92d2c3"/>
<rect x="1127" y="796" width="3" height="4" fill="#f4a5aa"/>
<rect x="1131" y="796" width="3" height="4" fill="#f4a5aa"/>
<rect x="1136" y="795" width="3" height="5" fill="#f4a5aa"/>
<rect x="1140" y="795" width="3" height="5" fill="#f4a5aa"/>
<rect x="1144" y="797" width="3" height="3" fill="#f4a5aa"/>
<rect x="1148" y="798" width="3" height="2" fill="#f4a5aa"/>
<rect x="1153" y="798" width="3" height="2" fill="#f4a5aa"/>
<rect x="1157" y="798" width="3" height="2" fill="#92d2c3"/>
<rect x="1161" y="798" width="3" height="2" fill="#92d2c3"/>
<rect x="1165" y="798" width="3" height="2" fill="#92d2c3"/>
<rect x="1169" y="798" width="3" height="2" fill="#f4a5aa"/>
<rect x="1174" y="798" width="3" height="2" fill="#92d2c3"/>
<rect x="1178" y="798" width="3" height="2" fill="#92d2c3"/>
<rect x="1182" y="798" width="3" height="2" fill="#f4a5aa"/>
<rect x="1186" y="798" width="3" height="2" fill="#92d2c3"/>
<rect x="1191" y="798" width="3" height="2" fill="#f4a5aa"/>
<rect x="1195" y="798" width="3" height="2" fill="#f4a5aa"/>
<rect x="1199" y="798" width="3" height="2" fill="#92d2c3"/>
<rect x="1203" y="798" width="3" height="2" fill="#92d2c3"/>
<rect x="1208" y="798" width="3" height="2" fill="#f4a5aa"/>
<rect x="1212" y="798" width="3" height="2" fill="#92d2c3"/>
<rect x="1216" y="798" width="3" height="2" fill="#f4a5aa"/>
<rect x="1220" y="798" width="3" height="2" fill="#92d2c3"/>
<rect x="1225" y="798" width="3" height="2" fill="#92d2c3"/>
<rect x="1229" y="770" width="3" height="30" fill="#f4a5aa"/>
<rect x="1233" y="798" width="3" height="2" fill="#92d2c3"/>
<rect x="1237" y="798" width="3" height="2" fill="#f4a5aa"/>
<rect x="1242" y="798" width="3" height="2" fill="#92d2c3"/>
<rect x="1246" y="798" width="3" height="2" fill="#92d2c3"/>
<rect x="1250" y="798" width="3" height="2" fill="#f4a5aa"/>
<rect x="1254" y="798" width="3" height="2" fill="#92d2c3"/>
<rect x="1259" y="798" width="3" height="2" fill="#f4a5aa"/>
<rect x="1263" y="798" width="3" height="2" fill="#f4a5aa"/>
<rect x="1267" y="798" width="3" height="2" fill="#92d2c3"/>
<rect x="1271" y="798" width="3" height="2" fill="#92d2c3"/>
<rect x="1276" y="798" width="3" height="2" fill="#f4a5aa"/>
<rect x="1280" y="798" width="3" height="2" fill="#92d2c3"/>
<rect x="1284" y="798" width="3" height="2" fill="#92d2c3"/>
<rect x="1288" y="798" width="3" height="2" fill="#92d2c3"/>
<rect x="1292" y="798" width="3" height="2" fill="#92d2c3"/>
<rect x="1297" y="798" width="3" height="2" fill="#92d2c3"/>
<rect x="1301" y="798" width="3" height="2" fill="#92d2c3"/>
<rect x="1305" y="798" width="3" height="2" fill="#92d2c3"/>
<rect x="1309" y="798" width="3" height="2" fill="#92d2c3"/>
<rect x="1314" y="798" width="3" height="2" fill="#92d2c3"/>
<rect x="1318" y="798" width="3" height="2" fill="#f4a5aa"/>
<rect x="1322" y="798" width="3" height="2" fill="#92d2c3"/>
<rect x="1326" y="798" width="3" height="2" fill="#92d2c3"/>
<rect x="1331" y="798" width="3" height="2" fill="#92d2c3"/>
<rect x="1335" y="798" width="3" height="2" fill="#f4a5aa"/>
<rect x="1339" y="798" width="3" height="2" fill="#f4a5aa"/>
<rect x="1343" y="798" width="3" height="2" fill="#92d2c3"/>
<rect x="1348" y="798" width="3" height="2" fill="#92d2c3"/>
<rect x="1352" y="798" width="3" height="2" fill="#92d2c3"/>
<rect x="1356" y="798" width="3" height="2" fill="#92d2c3"/>
<rect x="1360" y="798" width="3" height="2" fill="#f4a5aa"/>
<rect x="1365" y="798" width="3" height="2" fill="#f4a5aa"/>
<rect x="1369" y="798" width="3" height="2" fill="#f4a5aa"/>
<rect x="1373" y="798" width="3" height="2" fill="#92d2c3"/>
<rect x="1377" y="798" width="3" height="2" fill="#92d2c3"/>
<rect x="1382" y="798" width="3" height="2" fill="#92d2c3"/>
<rect x="1386" y="798" width="3" height="2" fill="#f4a5aa"/>
<rect x="1390" y="798" width="3" height="2" fill="#92d2c3"/>
<rect x="1394" y="798" width="3" height="2" fill="#92d2c3"/>
<rect x="1398" y="798" width="3" height="2" fill="#f4a5aa"/>
<rect x="1403" y="798" width="3" height="2" fill="#f4a5aa"/>
<rect x="1407" y="775" width="3" height="25" fill="#92d2c3"/>
<rect x="1411" y="794" width="3" height="6" fill="#f4a5aa"/>
<rect x="1415" y="796" width="3" height="4" fill="#92d2c3"/>
<rect x="1420" y="797" width="3" height="3" fill="#92d2c3"/>
<rect x="1424" y="783" width="3" height="17" fill="#f4a5aa"/>
<rect x="1428" y="795" width="3" height="5" fill="#f4a5aa"/>
<rect x="1432" y="791" width="3" height="9" fill="#92d2c3"/>
<rect x="1437" y="796" width="3" height="4" fill="#f4a5aa"/>
<rect x="1441" y="794" width="3" height="6" fill="#92d2c3"/>
<rect x="1445" y="601" width="3" height="199" fill="#f4a5aa"/>
<rect x="1449" y="797" width="3" height="3" fill="#f4a5aa"/>
<rect x="1454" y="795" width="3" height="5" fill="#92d2c3"/>
<rect x="1458" y="797" width="3" height="3" fill="#f4a5aa"/>
<rect x="1462" y="785" width="3" height="15" fill="#f4a5aa"/>
<rect x="1466" y="791" width="3" height="9" fill="#f4a5aa"/>
<rect x="1471" y="758" width="3" height="42" fill="#92d2c3"/>
<rect x="1475" y="792" width="3" height="8" fill="#92d2c3"/>
<rect x="1479" y="798" width="3" height="2" fill="#f4a5aa"/>
<rect x="1483" y="798" width="3" height="2" fill="#f4a5aa"/>
<rect x="1488" y="795" width="3" height="5" fill="#f4a5aa"/>
<rect x="1492" y="788" width="3" height="12" fill="#f4a5aa"/>
<rect x="1496" y="796" width="3" height="4" fill="#92d2c3"/>
<rect x="1500" y="652" width="3" height="148" fill="#92d2c3"/>
<rect x="1505" y="798" width="3" height="2" fill="#f4a5aa"/>
<rect x="1509" y="798" width="3" height="2" fill="#92d2c3"/>
<rect x="1513" y="796" width="3" height="4" fill="#92d2c3"/>
<rect x="1517" y="798" width="3" height="2" fill="#f4a5aa"/>
<rect x="1521" y="798" width="3" height="2" fill="#f4a5aa"/>
<rect x="1526" y="629" width="3" height="171" fill="#f4a5aa"/>
<rect x="1530" y="794" width="3" height="6" fill="#92d2c3"/>
<rect x="1534" y="798" width="3" height="2" fill="#f4a5aa"/>
<rect x="1538" y="796" width="3" height="4" fill="#f4a5aa"/>
<rect x="1543" y="791" width="3" height="9" fill="#f4a5aa"/>
<rect x="1547" y="793" width="3" height="7" fill="#f4a5aa"/>
<rect x="1551" y="698" width="3" height="102" fill="#92d2c3"/>
<rect x="1555" y="793" width="3" height="7" fill="#f4a5aa"/>
<rect x="1560" y="793" width="3" height="7" fill="#f4a5aa"/>
<rect x="13" y="800" width="1714" height="1" fill="#e0e3eb"/>
<rect x="13" y="0" width="1714" height="2" fill="#dfe2ea"/>
<g>
<circle cx="55.6" cy="756.4" r="24.4" fill="#fff" stroke="#dcdfe7" stroke-width="1.5"/>
<g fill="#131722"><path d="M40.1,749.2H53.1V765.1H47.5V754.6H40.1Z"/><path d="M63.7,749.2H72.0L65.7,765.2H58.2Z"/><circle cx="58.1" cy="751.9" r="2.9"/></g>
</g>
<g style="will-change:transform">
<text transform="translate(1574.9,44) scale(0.98,1)" font-size="17.6" fill="#131722" stroke="#131722" stroke-width="0.45">128000.00000000</text>
<text transform="translate(1574.9,98) scale(0.98,1)" font-size="17.6" fill="#131722" stroke="#131722" stroke-width="0.45">124000.00000000</text>
<text transform="translate(1574.9,151) scale(0.98,1)" font-size="17.6" fill="#131722" stroke="#131722" stroke-width="0.45">120000.00000000</text>
<text transform="translate(1574.9,205) scale(0.98,1)" font-size="17.6" fill="#131722" stroke="#131722" stroke-width="0.45">116000.00000000</text>
<text transform="translate(1574.9,258) scale(0.98,1)" font-size="17.6" fill="#131722" stroke="#131722" stroke-width="0.45">112000.00000000</text>
<text transform="translate(1574.9,312) scale(0.98,1)" font-size="17.6" fill="#131722" stroke="#131722" stroke-width="0.45">108000.00000000</text>
<text transform="translate(1574.9,365) scale(0.98,1)" font-size="17.6" fill="#131722" stroke="#131722" stroke-width="0.45">104000.00000000</text>
<text transform="translate(1574.9,419) scale(0.98,1)" font-size="17.6" fill="#131722" stroke="#131722" stroke-width="0.45">100000.00000000</text>
<text transform="translate(1574.9,472) scale(0.98,1)" font-size="17.6" fill="#131722" stroke="#131722" stroke-width="0.45">96000.00000000</text>
<text transform="translate(1574.9,526) scale(0.98,1)" font-size="17.6" fill="#131722" stroke="#131722" stroke-width="0.45">92000.00000000</text>
<text transform="translate(1574.9,580) scale(0.98,1)" font-size="17.6" fill="#131722" stroke="#131722" stroke-width="0.45">88000.00000000</text>
<text transform="translate(1574.9,633) scale(0.98,1)" font-size="17.6" fill="#131722" stroke="#131722" stroke-width="0.45">84000.00000000</text>
<text transform="translate(1574.9,687) scale(0.98,1)" font-size="17.6" fill="#131722" stroke="#131722" stroke-width="0.45">80000.00000000</text>
<text transform="translate(1574.9,740) scale(0.98,1)" font-size="17.6" fill="#131722" stroke="#131722" stroke-width="0.45">76000.00000000</text>
<text transform="translate(1574.9,794) scale(0.98,1)" font-size="17.6" fill="#131722" stroke="#131722" stroke-width="0.45">72000.00000000</text>
</g>
<path d="M1563,382.2 H1718.8 a3,3 0 0 1 3,3 V405.6 a3,3 0 0 1 -3,3 H1563 Z" fill="#339a82"/>
<text transform="translate(1574.9,402) scale(0.98,1)" font-size="17.6" fill="#fff" stroke="#fff" stroke-width="0.45">101256.48250000</text>
<path d="M1563,773.8 H1634.7 a3,3 0 0 1 3,3 V800 H1563 Z" fill="#eb5560"/>
<text transform="translate(1574.9,794) scale(0.98,1)" font-size="17.6" fill="#fff" stroke="#fff" stroke-width="0.45">1.929K</text>
<g style="will-change:transform">
<text transform="translate(115,827.7) scale(0.958,1)" font-size="18" text-anchor="middle" fill="#131722" stroke="#131722" stroke-width="0.45">Dec</text>
<text transform="translate(246,827.7) scale(1.04,1)" font-size="18" text-anchor="middle" fill="#131722" stroke="#131722" stroke-width="0.8">2025</text>
<text transform="translate(378,827.7) scale(0.958,1)" font-size="18" text-anchor="middle" fill="#131722" stroke="#131722" stroke-width="0.45">Feb</text>
<text transform="translate(501,827.7) scale(0.958,1)" font-size="18" text-anchor="middle" fill="#131722" stroke="#131722" stroke-width="0.45">2</text>
<text transform="translate(628,827.7) scale(0.958,1)" font-size="18" text-anchor="middle" fill="#131722" stroke="#131722" stroke-width="0.45">Apr</text>
<text transform="translate(755,827.7) scale(0.958,1)" font-size="18" text-anchor="middle" fill="#131722" stroke="#131722" stroke-width="0.45">May</text>
<text transform="translate(887,827.7) scale(0.958,1)" font-size="18" text-anchor="middle" fill="#131722" stroke="#131722" stroke-width="0.45">Jun</text>
<text transform="translate(1014,827.7) scale(0.958,1)" font-size="18" text-anchor="middle" fill="#131722" stroke="#131722" stroke-width="0.45">Jul</text>
<text transform="translate(1145,827.7) scale(0.958,1)" font-size="18" text-anchor="middle" fill="#131722" stroke="#131722" stroke-width="0.45">Aug</text>
<text transform="translate(1277,827.7) scale(0.958,1)" font-size="18" text-anchor="middle" fill="#131722" stroke="#131722" stroke-width="0.45">Sep</text>
<text transform="translate(1404,827.7) scale(0.958,1)" font-size="18" text-anchor="middle" fill="#131722" stroke="#131722" stroke-width="0.45">Oct</text>
<text transform="translate(1535,827.7) scale(0.958,1)" font-size="18" text-anchor="middle" fill="#131722" stroke="#131722" stroke-width="0.45">Nov</text>
</g>
</svg>
</body></html>
